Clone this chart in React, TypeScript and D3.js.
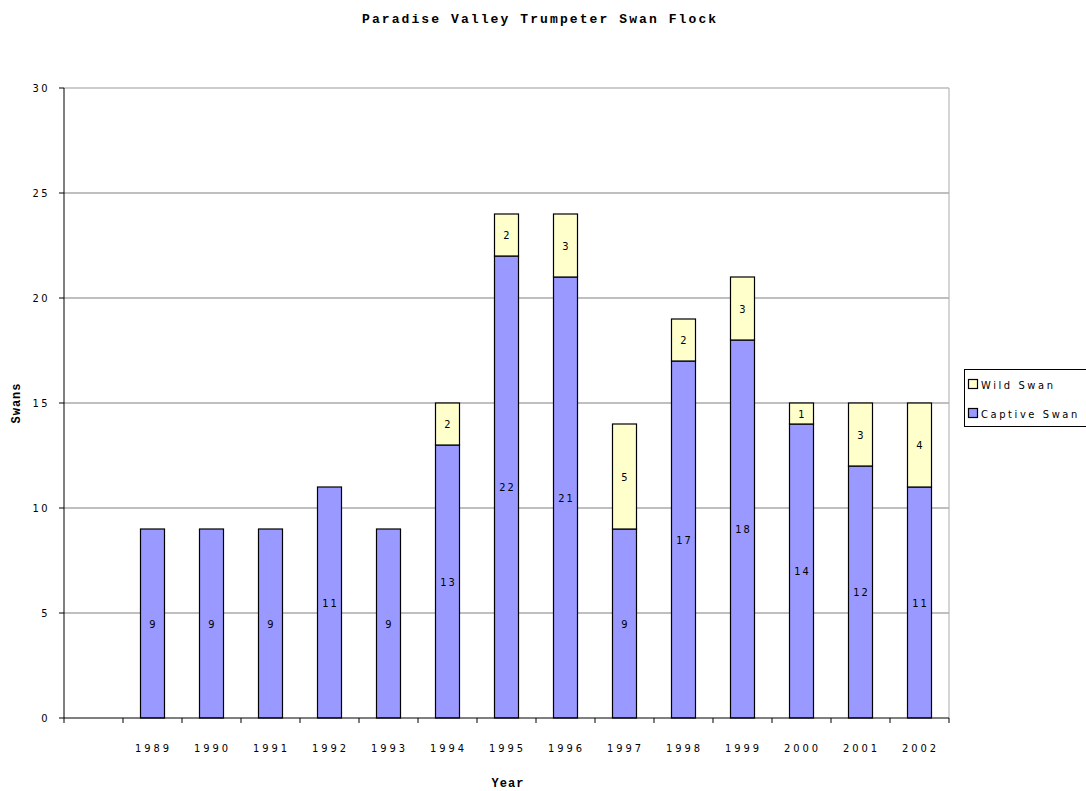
import React from 'react';
import * as d3 from 'd3';

const years = ['', '1989', '1990', '1991', '1992', '1993', '1994', '1995', '1996', '1997', '1998', '1999', '2000', '2001', '2002'];
const captive = [0, 9, 9, 9, 11, 9, 13, 22, 21, 9, 17, 18, 14, 12, 11];
const wild = [0, 0, 0, 0, 0, 0, 2, 2, 3, 5, 2, 3, 1, 3, 4];
const yTicks = [0, 5, 10, 15, 20, 25, 30];

const W = 1086;
const H = 791;
const left = 64;
const right = 949;
const top = 88;
const bottom = 718;
const font = "'DejaVu Sans Condensed', 'DejaVu Sans', sans-serif";
const boldFont = "'Liberation Mono', 'DejaVu Sans Mono', monospace";

export default function App() {
    const x = d3.scaleBand().domain(years.map((d, i) => String(i))).range([left, right]).paddingInner(0).paddingOuter(0);
    const y = d3.scaleLinear().domain([0, 30]).range([bottom, top]);
    const bw = 24;

    const bars = years.map((yr, i) => {
        const cx = (x(String(i)) as number) + x.bandwidth() / 2;
        return { yr, i, cx, c: captive[i], w: wild[i] };
    });

    return (
        <svg width={W} height={H} style={{ position: 'absolute', left: 0, top: 0, fontFamily: font, fontStretch: 'condensed' }}>
            <rect width={W} height={H} fill="#fff" />
            <text x={540} y={23} textAnchor="middle" fontSize={13} fontWeight="bold" fontFamily={boldFont} letterSpacing={1.9} textLength={356} lengthAdjust="spacing">Paradise Valley Trumpeter Swan Flock</text>

            {yTicks.map(t => (
                <g key={t}>
                    {t > 0 && <line x1={left} x2={right} y1={y(t)} y2={y(t)} stroke={t === 30 ? '#999' : '#808080'} strokeWidth={1.2} />}
                    <line x1={left - 5} x2={left} y1={y(t)} y2={y(t)} stroke="#000" />
                    <text x={50} y={y(t) + 4} textAnchor="end" fontSize={11} letterSpacing={2.5}>{t}</text>
                </g>
            ))}
            <line x1={right} x2={right} y1={top} y2={bottom} stroke="#aaa" />

            {bars.filter(b => b.c + b.w > 0).map(b => (
                <g key={b.i}>
                    <rect x={b.cx - bw / 2} y={y(b.c)} width={bw} height={y(0) - y(b.c)} fill="#9999FF" stroke="#000" strokeWidth={1.2} />
                    <text x={b.cx + 1} y={(y(b.c) + y(0)) / 2 + 4} textAnchor="middle" fontSize={11} letterSpacing={2}>{b.c}</text>
                    {b.w > 0 && (
                        <>
                            <rect x={b.cx - bw / 2} y={y(b.c + b.w)} width={bw} height={y(b.c) - y(b.c + b.w)} fill="#FFFFCC" stroke="#000" strokeWidth={1.2} />
                            <text x={b.cx} y={(y(b.c + b.w) + y(b.c)) / 2 + 4} textAnchor="middle" fontSize={11}>{b.w}</text>
                        </>
                    )}
                </g>
            ))}

            <line x1={left} x2={left} y1={top} y2={bottom} stroke="#000" />
            <line x1={left} x2={right} y1={bottom} y2={bottom} stroke="#000" />
            {d3.range(years.length + 1).map(k => {
                const px = left + k * x.bandwidth();
                return <line key={k} x1={px} x2={px} y1={bottom} y2={bottom + 5} stroke="#000" />;
            })}
            {bars.map(b => (
                <text key={b.i} x={b.cx + 1} y={752} textAnchor="middle" fontSize={11} letterSpacing={3}>{b.yr}</text>
            ))}

            <text x={508} y={787} textAnchor="middle" fontSize={12} fontWeight="bold" fontFamily={boldFont} letterSpacing={1}>Year</text>
            <text transform="translate(20,403) rotate(-90)" textAnchor="middle" fontSize={12} fontWeight="bold" fontFamily={boldFont} letterSpacing={1}>Swans</text>

            <g>
                <rect x={964.5} y={369.5} width={125} height={57} fill="#fff" stroke="#000" />
                <rect x={968.5} y={379.5} width={9} height={9} fill="#FFFFCC" stroke="#000" strokeWidth={1.2} />
                <text x={981} y={389} fontSize={11} letterSpacing={2.6}>Wild Swan</text>
                <rect x={968.5} y={408.5} width={9} height={9} fill="#9999FF" stroke="#000" strokeWidth={1.2} />
                <text x={981} y={418} fontSize={11} letterSpacing={2.6}>Captive Swan</text>
            </g>
        </svg>
    );
}
